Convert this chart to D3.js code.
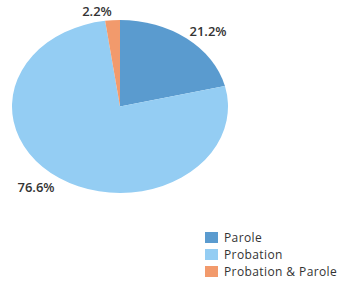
<!DOCTYPE html>
<html>
<head>
<meta charset="utf-8">
<script src="https://cdn.jsdelivr.net/npm/d3@7"></script>
<style>
  body { margin: 0; background: #fff; }
  text { font-family: "Open Sans", sans-serif; }
</style>
</head>
<body>
<div id="app"></div>
<script>
const categories = ["Parole", "Probation", "Probation & Parole"];
const shares = [21.2, 76.6, 2.2];
const labels = ["21.2%", "76.6%", "2.2%"];
const colors = ["#5a9bcf", "#94cdf3", "#f29a6c"];

const w = 341, h = 284;
const cx = 120, cy = 106.5;
const rx = 108, ry = 86.5;

const svg = d3.select("#app")
  .append("svg")
  .attr("width", w)
  .attr("height", h);

const pie = d3.pie().sort(null).value(d => d);
const arcs = pie(shares);
const arc = d3.arc().innerRadius(0).outerRadius(rx);

const g = svg.append("g")
  .attr("transform", "translate(" + cx + "," + cy + ") scale(1," + (ry / rx) + ")");

g.selectAll("path")
  .data(arcs)
  .enter()
  .append("path")
  .attr("d", arc)
  .attr("fill", (d, i) => colors[i]);

// label spots outside the ellipse
const labelPos = [[208, 36], [36, 192], [97, 16]];

svg.selectAll(".lbl")
  .data(labels)
  .enter()
  .append("text")
  .attr("class", "lbl")
  .attr("x", (d, i) => labelPos[i][0])
  .attr("y", (d, i) => labelPos[i][1])
  .attr("text-anchor", "middle")
  .attr("font-size", "13px")
  .attr("font-weight", 600)
  .attr("fill", "#333")
  .text(d => d);

const legend = svg.append("g")
  .attr("transform", "translate(205,232)");

const rows = legend.selectAll("g")
  .data(categories)
  .enter()
  .append("g")
  .attr("transform", (d, i) => "translate(0," + (i * 17) + ")");

rows.append("rect")
  .attr("width", 13)
  .attr("height", 11)
  .attr("fill", (d, i) => colors[i]);

rows.append("text")
  .attr("x", 19)
  .attr("y", 10)
  .attr("font-size", "12px")
  .attr("letter-spacing", "0.4px")
  .attr("fill", "#333")
  .text(d => d);
</script>
</body>
</html>
